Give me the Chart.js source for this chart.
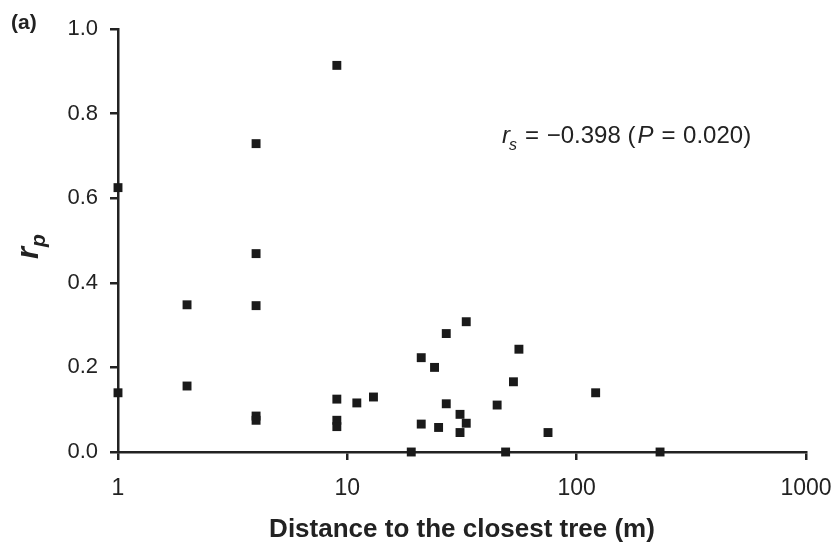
<!DOCTYPE html>
<html>
<head>
<meta charset="utf-8">
<script src="https://cdn.jsdelivr.net/npm/chart.js@4"></script>
<style>
  html, body { margin: 0; padding: 0; background: #fff; }
  #wrap { width: 835px; height: 545px; }
</style>
</head>
<body>
<div id="wrap"><canvas id="grafico" width="835" height="545"></canvas></div>
<script>
// distancia al arbol mas cercano (m) y r_p
const distancias = [1, 1, 2, 2, 4, 4, 4, 4, 4, 9, 9, 9, 9, 11, 13, 19, 21, 21, 24, 25, 27, 27, 31, 31, 33, 33, 45, 49, 53, 56, 75, 121, 231];
const valoresRp = [0.625, 0.14, 0.348, 0.156, 0.729, 0.469, 0.346, 0.085, 0.075, 0.914, 0.125, 0.075, 0.06, 0.116, 0.13, 0, 0.223, 0.066, 0.2, 0.058, 0.28, 0.114, 0.089, 0.046, 0.308, 0.068, 0.111, 0, 0.166, 0.243, 0.046, 0.14, 0];
const ticksX = [1, 10, 100, 1000];
const ticksY = [0, 0.2, 0.4, 0.6, 0.8, 1.0];

const colorTexto = '#222';
const fuente = "'Liberation Sans', Arial, sans-serif";

const puntos = distancias.map((d, i) => ({ x: d, y: valoresRp[i] }));

// textos con subindices: (a), r_p y la anotacion
const textosExtra = {
  id: 'textosExtra',
  afterDraw(chart) {
    const ctx = chart.ctx;
    const area = chart.chartArea;
    ctx.save();
    ctx.fillStyle = colorTexto;
    ctx.textBaseline = 'alphabetic';

    ctx.font = 'bold 21px ' + fuente;
    ctx.textAlign = 'left';
    ctx.fillText('(a)', 11, 29);

    // titulo eje y rotado
    ctx.save();
    ctx.translate(38, 259);
    ctx.rotate(-Math.PI / 2);
    ctx.font = 'italic bold 31px ' + fuente;
    ctx.fillText('r', 0, 0);
    let w = ctx.measureText('r').width;
    ctx.font = 'italic bold 21px ' + fuente;
    ctx.fillText('p', w, 7);
    ctx.restore();

    // anotacion
    let x = area.left + 384;
    const y = area.top + 114;
    ctx.font = 'italic 24px ' + fuente;
    ctx.fillText('r', x, y);
    x += ctx.measureText('r').width;
    ctx.font = 'italic 16px ' + fuente;
    ctx.fillText('s', x - 1, y + 7);
    x += ctx.measureText('s').width + 7;
    ctx.font = '24px ' + fuente;
    ctx.fillText('=', x, y);
    x += ctx.measureText('= ').width + 1;
    let t = '\u22120.398 (';
    ctx.fillText(t, x, y);
    x += ctx.measureText(t).width + 2;
    ctx.font = 'italic 24px ' + fuente;
    ctx.fillText('P', x, y);
    x += ctx.measureText('P').width + 8;
    ctx.font = '24px ' + fuente;
    ctx.fillText('=', x, y);
    x += ctx.measureText('= ').width + 1;
    ctx.fillText('0.020)', x, y);
    ctx.restore();
  }
};

const ctx = document.getElementById('grafico').getContext('2d');
const chart = new Chart(ctx, {
  type: 'scatter',
  data: {
    datasets: [{
      data: puntos,
      pointStyle: 'rect',
      pointRadius: 6.3,
      backgroundColor: '#1a1a1a',
      borderColor: '#1a1a1a',
      borderWidth: 0,
      clip: false
    }]
  },
  options: {
    responsive: false,
    animation: false,
    layout: { padding: { top: 29, right: 29, left: 0, bottom: 0 } },
    plugins: { legend: { display: false }, tooltip: { enabled: false } },
    scales: {
      x: {
        type: 'logarithmic',
        min: 1,
        max: 1000,
        afterBuildTicks: s => { s.ticks = ticksX.map(v => ({ value: v })); },
        afterFit: s => { s.height = 93; s.paddingLeft = 0; s.paddingRight = 0; },
        border: { display: true, color: colorTexto, width: 2.5 },
        grid: { drawOnChartArea: false, drawTicks: true, tickLength: 8, color: colorTexto, lineWidth: 2.5 },
        ticks: {
          color: colorTexto,
          font: { family: fuente, size: 23 },
          padding: 15,
          maxRotation: 0,
          callback: v => String(v)
        },
        title: {
          display: true,
          text: 'Distance to the closest tree (m)',
          color: colorTexto,
          font: { family: fuente, size: 26, weight: 'bold' },
          padding: { top: 6, bottom: 0 }
        }
      },
      y: {
        min: 0,
        max: 1,
        afterBuildTicks: s => { s.ticks = ticksY.map(v => ({ value: v })); },
        afterFit: s => { s.width = 118; s.paddingTop = 0; s.paddingBottom = 0; },
        border: { display: true, color: colorTexto, width: 2.5 },
        grid: { drawOnChartArea: false, drawTicks: true, tickLength: 8, color: colorTexto, lineWidth: 2.5 },
        ticks: {
          color: colorTexto,
          font: { family: fuente, size: 22 },
          padding: 12,
          callback: v => v.toFixed(1)
        }
      }
    }
  },
  plugins: [textosExtra]
});
</script>
</body>
</html>
